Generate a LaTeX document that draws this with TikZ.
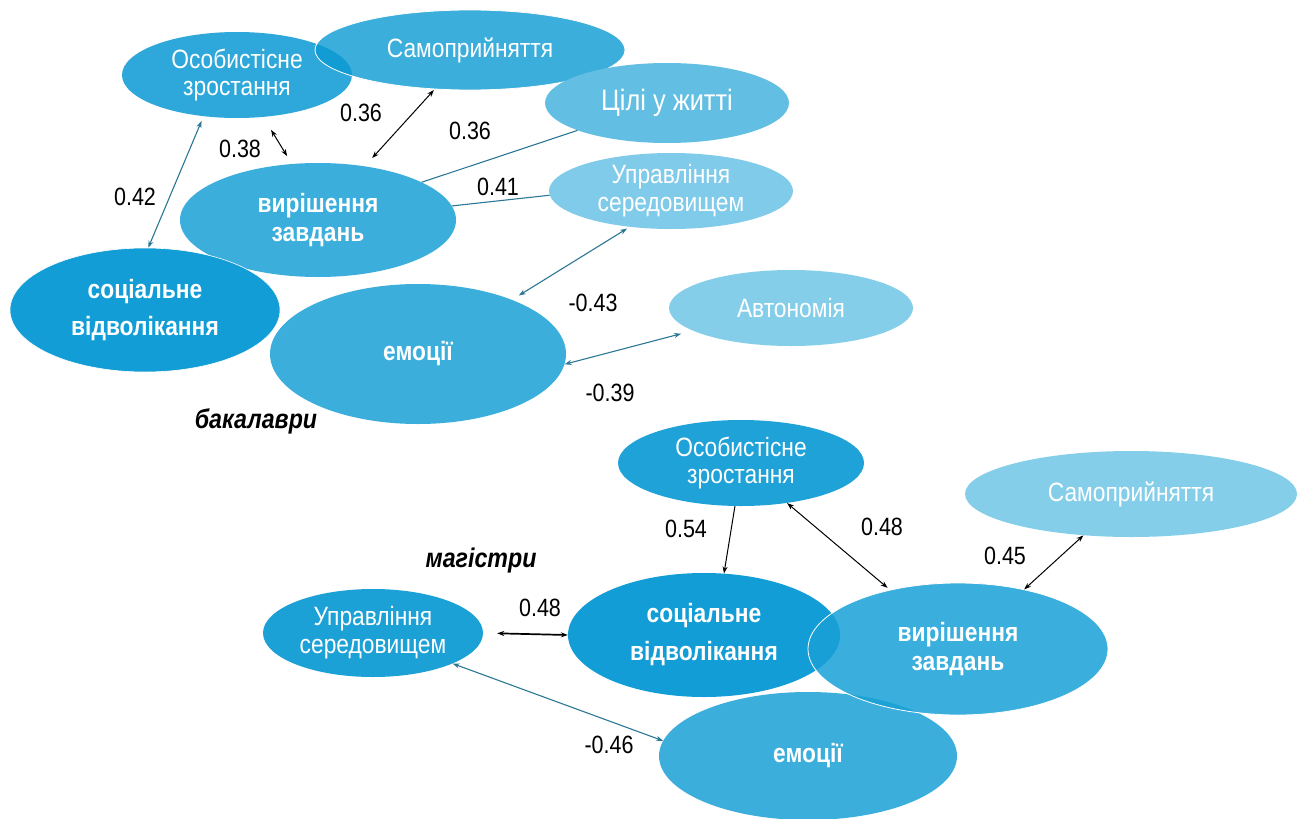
\documentclass[tikz,border=0pt]{standalone}
\usepackage{fontspec}
\setmainfont{Liberation Sans}[FakeStretch=0.86]
\usetikzlibrary{shapes.geometric,arrows.meta}
\definecolor{cdark}{HTML}{139DD6}
\definecolor{cmid}{HTML}{3BAEDC}
\definecolor{cmidbase}{HTML}{0A9AD3}
\definecolor{cvbase}{HTML}{18A0D6}
\definecolor{cOone}{HTML}{2EA8DA}
\definecolor{cCil}{HTML}{62BFE3}
\definecolor{cUone}{HTML}{80CBE9}
\definecolor{clight}{HTML}{85CEEA}
\definecolor{cUtwo}{HTML}{1CA1D7}
\definecolor{cOtwo}{HTML}{1FA2D8}
\definecolor{cteal}{HTML}{2C7894}
\newcommand\ltf{\fontsize{26.5}{27}\selectfont}
\newcommand\btf{\bfseries\fontsize{26.5}{29}\selectfont}
\begin{document}
\begin{tikzpicture}[x=1pt,y=-1pt,
  >={Stealth[length=7pt,width=5pt]},
  ell/.style={ellipse, inner sep=0pt, text=white, align=center},
  lbl/.style={font=\fontsize{25}{28}\selectfont, text=black, inner sep=0pt},
  grp/.style={font=\bfseries\itshape\fontsize{27}{30}\selectfont, text=black, inner sep=0pt},
  tline/.style={draw=cteal, line width=1.1pt},
  bline/.style={draw=black, line width=1pt}]
\useasboundingbox (0,0) rectangle (1304,819);
\fill[white] (0,0) rectangle (1304,819);

% ---- top group (бакалаври)
\node[ell, fill=cOone, minimum width=230pt, minimum height=86pt, font=\ltf] (O1) at (237,75) {Особистісне\\зростання};
\node[ell, fill=cmidbase, fill opacity=0.8, text opacity=1, draw=white, line width=0.8pt, minimum width=310pt, minimum height=80pt, font=\ltf] (S1) at (470,50) {Самоприйняття};
\node[ell, fill=cCil, minimum width=244pt, minimum height=80pt, font=\fontsize{29.5}{29}\selectfont] (C1) at (667,103) {Цілі у житті};
\node[ell, fill=cUone, minimum width=244pt, minimum height=76pt, font=\ltf] (U1) at (671,191) {Управління\\[1pt]середовищем};
\node[ell, fill=clight, minimum width=244pt, minimum height=76pt, font=\ltf] (A1) at (791,308) {Автономія};
\node[ell, fill=cmid, minimum width=276pt, minimum height=114pt, font=\btf] (V1) at (318,220) {вирішення\\завдань};
\node[ell, fill=cdark, draw=white, line width=0.6pt, minimum width=270pt, minimum height=124pt, font=\btf] (Soc1) at (145,310) {соціальне\\[8pt]відволікання};
\node[ell, fill=cmid, minimum width=296pt, minimum height=140pt, font=\btf] (E1) at (418,354) {емоції};

\draw[tline,<->,shorten <=5pt] (O1.231.8) -- (Soc1.87.4);
\draw[bline,<->,shorten <=15pt,shorten >=9pt] (O1.302.5) -- (V1.115.1);
\draw[bline,<->,shorten <=1pt,shorten >=11pt] (S1.228) -- (V1.49.4);
\draw[tline] (V1.20.4) -- (C1.197.2);
\draw[tline] (V1.6.2) -- (U1.182.8);
\draw[tline,<->,shorten <=8pt,shorten >=3pt] (E1.30.5) -- (U1.221.5);
\draw[tline,<->,shorten >=12pt] (E1.356.9) -- (A1.193.5);

\node[lbl] (l1) at (135,197) {0.42};
\node[lbl] (l2) at (240,149) {0.38};
\node[lbl] (l3) at (361,113) {0.36};
\node[lbl] (l4) at (470,131) {0.36};
\node[lbl] (l5) at (498,187) {0.41};
\node[lbl] (l6) at (593,303) {-0.43};
\node[lbl] (l7) at (610,393) {-0.39};
\node[grp] (g1) at (256,421) {бакалаври};

% ---- bottom group (магістри)
\node[ell, fill=cOtwo, minimum width=246pt, minimum height=86pt, font=\ltf] (O2) at (741,463) {Особистісне\\зростання};
\node[ell, fill=clight, minimum width=332pt, minimum height=86pt, font=\ltf] (S2) at (1131,494) {Самоприйняття};
\node[ell, fill=cUtwo, minimum width=220pt, minimum height=88pt, font=\ltf] (U2) at (373,633) {Управління\\[1pt]середовищем};
\node[ell, fill=cmid, minimum width=298pt, minimum height=128pt, font=\btf] (E2) at (808,756) {емоції};
\node[ell, fill=cdark, minimum width=272pt, minimum height=124pt, font=\btf] (Soc2) at (704,635) {соціальне\\[9pt]відволікання};
\node[ell, fill=cvbase, fill opacity=0.85, text opacity=1, draw=white, line width=0.8pt, minimum width=300pt, minimum height=132pt, font=\btf] (V2) at (958,649) {вирішення\\завдань};

\draw[bline,->] (O2.262) -- (Soc2.72.4);
\draw[bline,<->,shorten >=3pt] (O2.319) -- (V2.139.3);
\draw[bline,<->] (S2.221.7) -- (V2.42.7);
\draw[bline,<->,line width=1.7pt,shorten <=14pt] (U2.0) -- (Soc2.180);
\draw[tline,<->] (U2.339.3) -- (E2.174);

\node[lbl] (m1) at (686,529) {0.54};
\node[lbl] (m2) at (882,527) {0.48};
\node[lbl] (m3) at (1005,556) {0.45};
\node[lbl] (m4) at (540,608) {0.48};
\node[lbl] (m5) at (609,745) {-0.46};
\node[grp] (g2) at (481,561) {магістри};
\end{tikzpicture}
\end{document}
